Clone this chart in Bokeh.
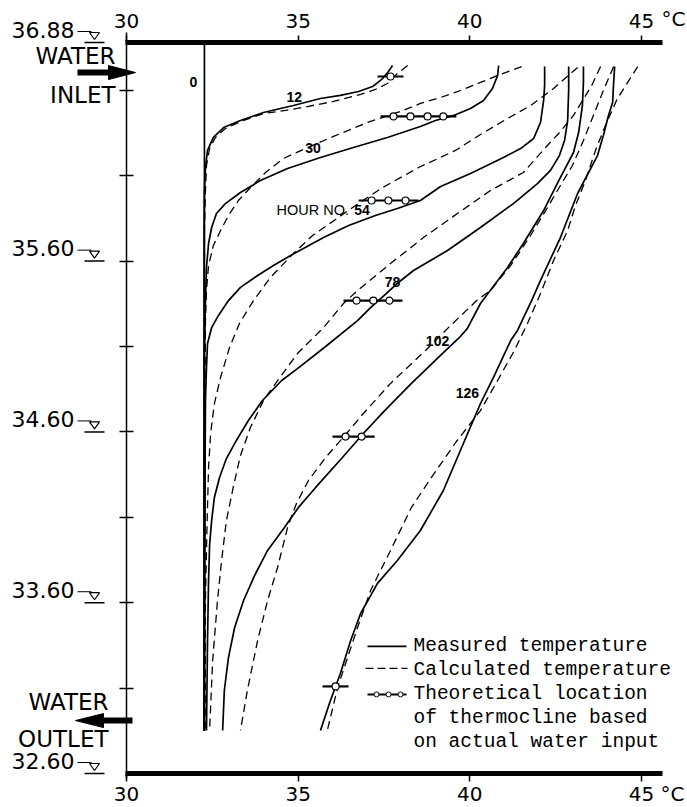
from bokeh.plotting import figure
from bokeh.models import Range1d, LinearAxis, FixedTicker
from bokeh.core.properties import value
from bokeh.embed import file_html
from bokeh.resources import INLINE

# ---------------- data (temperature in deg C, elevation in m) ----------------
temp_ticks = [30, 35, 40, 45]
elev_ticks = [33.10, 33.60, 34.10, 34.60, 35.10, 35.60, 36.10, 36.60]
level_values = [36.88, 35.60, 34.60, 33.60, 32.60]
level_labels = ["36.88", "35.60", "34.60", "33.60", "32.60"]
inlet_elev = 36.704
outlet_elev = 32.910

m0_elev = [36.88, 32.85]
m0_temp = [32.27, 32.27]

m12_temp = [37.75, 37.63, 37.46, 37.17, 36.76, 36.23, 35.65, 34.86, 33.99, 33.32, 32.83, 32.53, 32.36, 32.30, 32.27, 32.26, 32.26]
m12_elev = [36.745, 36.710, 36.669, 36.622, 36.593, 36.570, 36.552, 36.511, 36.470, 36.423, 36.382, 36.324, 36.248, 36.148, 36.013, 35.779, 32.852]
c12_temp = [38.19, 37.89, 37.60, 37.25, 36.82, 36.03, 35.27, 34.63, 33.99, 33.32, 32.88, 32.59, 32.42, 32.33, 32.30, 32.27, 32.27]
c12_elev = [36.745, 36.699, 36.640, 36.605, 36.576, 36.535, 36.505, 36.482, 36.464, 36.417, 36.376, 36.324, 36.259, 36.160, 36.013, 35.779, 32.852]

m30_temp = [40.84, 40.81, 40.66, 40.40, 40.02, 39.53, 39.00, 38.56, 37.60, 36.61, 35.65, 34.69, 33.90, 33.32, 32.88, 32.62, 32.48, 32.39, 32.33, 32.30, 32.27, 32.26]
m30_elev = [36.745, 36.687, 36.611, 36.540, 36.494, 36.453, 36.423, 36.388, 36.324, 36.265, 36.207, 36.142, 36.072, 36.002, 35.937, 35.879, 35.797, 35.703, 35.563, 35.369, 35.077, 32.852]
c30_temp = [41.51, 40.89, 40.31, 39.73, 39.15, 38.56, 37.98, 37.02, 36.03, 35.27, 34.57, 34.05, 33.61, 33.26, 32.97, 32.74, 32.53, 32.39, 32.33, 32.30, 32.29, 32.27]
c30_elev = [36.739, 36.693, 36.646, 36.599, 36.558, 36.523, 36.476, 36.412, 36.330, 36.265, 36.201, 36.119, 36.031, 35.955, 35.867, 35.779, 35.691, 35.574, 35.428, 35.252, 34.901, 32.852]

m54_temp = [42.18, 42.18, 42.15, 42.06, 41.86, 41.48, 40.98, 40.02, 39.15, 38.56, 37.89, 37.25, 36.47, 35.74, 34.78, 34.28, 33.82, 33.32, 32.97, 32.68, 32.48, 32.36, 32.33, 32.30, 32.29, 32.27]
m54_elev = [36.739, 36.628, 36.540, 36.412, 36.318, 36.259, 36.207, 36.113, 36.037, 35.955, 35.908, 35.867, 35.809, 35.738, 35.633, 35.574, 35.516, 35.446, 35.369, 35.282, 35.211, 35.118, 34.977, 34.784, 34.433, 32.852]
c54_temp = [43.14, 42.44, 41.77, 41.10, 40.31, 39.58, 38.51, 37.46, 36.67, 36.09, 35.42, 34.86, 34.19, 33.70, 33.29, 33.00, 32.74, 32.56, 32.45, 32.39, 32.34, 32.30, 32.29]
c54_elev = [36.734, 36.611, 36.511, 36.435, 36.341, 36.248, 36.148, 36.031, 35.926, 35.844, 35.750, 35.645, 35.504, 35.369, 35.235, 35.094, 34.919, 34.766, 34.591, 34.392, 34.005, 33.613, 32.852]

m78_temp = [42.88, 42.88, 42.85, 42.76, 42.61, 42.35, 41.97, 41.27, 40.31, 39.35, 38.36, 37.92, 37.54, 37.11, 36.73, 35.80, 34.98, 34.52, 33.96, 33.55, 33.20, 32.91, 32.71, 32.56, 32.48, 32.42, 32.39, 32.36, 32.33]
m78_elev = [36.739, 36.599, 36.423, 36.306, 36.218, 36.131, 36.054, 35.937, 35.797, 35.662, 35.545, 35.475, 35.405, 35.328, 35.252, 35.100, 34.971, 34.901, 34.784, 34.667, 34.550, 34.444, 34.333, 34.216, 34.081, 33.935, 33.730, 33.379, 32.852]
c78_temp = [43.81, 43.55, 43.02, 42.64, 42.26, 41.56, 40.60, 39.64, 38.65, 37.69, 36.73, 36.32, 35.74, 34.98, 34.40, 33.99, 33.61, 33.32, 33.12, 32.91, 32.77, 32.65, 32.51, 32.42]
c78_elev = [36.739, 36.628, 36.453, 36.359, 36.277, 36.119, 36.013, 35.879, 35.738, 35.586, 35.428, 35.352, 35.211, 35.059, 34.901, 34.784, 34.626, 34.462, 34.286, 34.081, 33.847, 33.613, 33.262, 32.852]

m102_temp = [43.31, 43.31, 43.28, 43.17, 43.02, 42.64, 42.15, 41.56, 41.10, 40.31, 39.93, 39.70, 39.20, 38.30, 37.52, 36.90, 36.29, 35.51, 35.01, 34.60, 34.11, 33.73, 33.41, 33.15, 32.97, 32.85, 32.80]
m102_elev = [36.739, 36.646, 36.511, 36.353, 36.236, 36.090, 35.896, 35.703, 35.563, 35.352, 35.206, 35.153, 35.059, 34.884, 34.725, 34.591, 34.450, 34.275, 34.158, 34.040, 33.906, 33.759, 33.613, 33.455, 33.279, 33.086, 32.852]
c102_temp = [44.19, 43.89, 43.60, 43.31, 42.99, 42.64, 42.21, 41.77, 41.19, 40.60, 40.20, 39.44, 38.71, 37.69, 36.90, 36.41, 35.80, 35.30, 34.95, 34.69, 34.40, 34.11, 33.82, 33.52, 33.32]
c102_elev = [36.739, 36.599, 36.453, 36.306, 36.160, 36.043, 35.896, 35.750, 35.574, 35.428, 35.369, 35.223, 35.077, 34.884, 34.708, 34.591, 34.450, 34.316, 34.181, 34.040, 33.806, 33.613, 33.379, 33.086, 32.852]

m126_temp = [44.22, 44.19, 44.16, 44.04, 43.89, 43.72, 43.46, 43.14, 42.64, 42.06, 41.80, 41.39, 41.19, 40.69, 40.31, 39.85, 39.23, 38.56, 37.89, 37.31, 36.82, 36.53, 36.23, 35.94, 35.65]
m126_elev = [36.739, 36.646, 36.529, 36.453, 36.336, 36.218, 36.119, 35.996, 35.738, 35.487, 35.369, 35.194, 35.135, 34.919, 34.766, 34.550, 34.257, 34.023, 33.847, 33.713, 33.537, 33.379, 33.186, 33.027, 32.852]
c126_temp = [44.89, 44.54, 44.30, 43.95, 43.66, 43.37, 43.08, 42.85, 42.44, 42.06, 41.68, 41.30, 40.81, 40.31, 39.61, 38.88, 38.30, 37.69, 37.11, 36.73, 36.44, 36.15, 35.85]
c126_elev = [36.739, 36.628, 36.552, 36.394, 36.248, 36.072, 35.926, 35.779, 35.604, 35.410, 35.235, 35.077, 34.901, 34.725, 34.544, 34.333, 34.158, 33.906, 33.672, 33.455, 33.279, 33.104, 32.852]

# theoretical thermocline location (one elevation per hour, circles at temperatures)
tc_elev = [36.681, 36.447, 35.955, 35.369, 34.573, 33.110]
tc_temps = [[37.69], [37.78, 38.27, 38.77, 39.23], [37.14, 37.63, 38.13],
            [36.70, 37.19, 37.66], [36.38, 36.85], [36.09]]

hour_text = ["0", "12", "30", "54", "78", "102", "126"]
hour_temp = [31.95, 34.89, 35.43, 36.86, 37.75, 39.06, 39.93]
hour_elev = [36.646, 36.558, 36.265, 35.902, 35.475, 35.135, 34.825]

legend_text = ["Measured temperature", "Calculated temperature", "Theoretical location",
               "of thermocline based", "on actual water input"]

# ---------------- layout helpers ----------------
DX = 1 / 34.33   # deg C per screen pixel
DY = 1 / 170.8   # m per screen pixel
T_AX = 30.0      # temperature of the left axis
def xo(dpx):     # x position dpx pixels right of the left axis
    return T_AX + dpx * DX

W, H = 687, 807
AX_LEFT_PX, AX_TOP_PX = 126, 42
x_lo = xo(-AX_LEFT_PX)
x_hi = xo(W - AX_LEFT_PX)
y_hi = level_values[0] + AX_TOP_PX * DY
y_lo = level_values[0] - (H - AX_TOP_PX) * DY

p = figure(width=W, height=H, x_range=Range1d(x_lo, x_hi), y_range=Range1d(y_lo, y_hi),
           x_axis_location=None, y_axis_location=None, toolbar_location=None,
           output_backend="svg", min_border=0)
p.outline_line_color = None
p.xgrid.visible = False
p.ygrid.visible = False

T_END = xo(536)

def temp_axis(loc, tick_out, standoff):
    ax = LinearAxis(ticker=FixedTicker(ticks=temp_ticks, minor_ticks=[]),
                    fixed_location=loc, bounds=(xo(-1), T_END))
    ax.axis_line_width = 5
    ax.axis_line_color = "black"
    ax.major_tick_line_width = 1.5
    ax.major_tick_line_color = "black"
    ax.major_tick_in = 0
    ax.major_tick_out = tick_out
    ax.minor_tick_line_color = None
    ax.major_label_text_font = "DejaVu Sans"
    ax.major_label_text_font_size = "20px"
    ax.major_label_text_color = "black"
    ax.major_label_standoff = standoff
    return ax

p.add_layout(temp_axis(level_values[0], 7, 8), "above")
p.add_layout(temp_axis(level_values[-1], 8, 5), "below")

ax_left = LinearAxis(ticker=FixedTicker(ticks=elev_ticks, minor_ticks=[]),
                     fixed_location=T_AX, bounds=(32.57, 36.94))
ax_left.axis_line_width = 1.5
ax_left.axis_line_color = "black"
ax_left.major_tick_in = 7
ax_left.major_tick_out = 7
ax_left.major_tick_line_width = 1.5
ax_left.major_tick_line_color = "black"
ax_left.minor_tick_line_color = None
ax_left.major_label_overrides = {t: "" for t in elev_ticks}
p.add_layout(ax_left, "left")

# ---------------- curves ----------------
measured = [(m0_temp, m0_elev), (m12_temp, m12_elev), (m30_temp, m30_elev), (m54_temp, m54_elev),
            (m78_temp, m78_elev), (m102_temp, m102_elev), (m126_temp, m126_elev)]
calculated = [(c12_temp, c12_elev), (c30_temp, c30_elev), (c54_temp, c54_elev),
              (c78_temp, c78_elev), (c102_temp, c102_elev), (c126_temp, c126_elev)]
for t, e in calculated:
    p.line(t, e, line_color="black", line_width=1.3, line_dash="8 5")
for t, e in measured:
    p.line(t, e, line_color="black", line_width=1.7)

# thermocline markers
bar_ext = 13 * DX
for e, ts in zip(tc_elev, tc_temps):
    p.line([min(ts) - bar_ext, max(ts) + bar_ext], [e, e], line_color="black", line_width=2.2)
    p.scatter(ts, [e] * len(ts), size=7, marker="circle", fill_color="white",
              line_color="black", line_width=1.2)

# hour labels
p.text(x=hour_temp, y=hour_elev, text=hour_text, text_font=value("Liberation Sans"),
       text_font_style="bold", text_font_size="14px", text_align="center",
       text_baseline="middle", text_color="black")
p.text(x=[hour_temp[3] - 13 * DX], y=[hour_elev[3]], text=["HOUR NO."],
       text_font=value("Liberation Sans"), text_font_size="14.5px", text_align="right",
       text_baseline="middle", text_color="black")

# ---------------- legend ----------------
leg_x = xo(287)
leg_e0 = 33.344
row = 24 * DY
p.text(x=[leg_x] * len(legend_text), y=[leg_e0 - i * row for i in range(len(legend_text))],
       text=legend_text, text_font=value("Liberation Mono"), text_font_size="19.5px",
       text_align="left", text_baseline="middle", text_color="black")
p.line([xo(241), xo(280)], [leg_e0, leg_e0], line_color="black", line_width=1.7)
p.line([xo(239), xo(281)], [leg_e0 - row + 2 * DY] * 2, line_color="black", line_width=1.3,
       line_dash="8 4")
p.line([xo(241), xo(280)], [leg_e0 - 2 * row] * 2, line_color="black", line_width=2)
p.scatter([xo(250), xo(262), xo(274)], [leg_e0 - 2 * row] * 3, size=5, marker="circle",
          fill_color="white", line_color="black", line_width=1)

# ---------------- left-side annotations ----------------
p.text(x=[xo(-52)] * len(level_values), y=[lv + 13 * DY for lv in level_values],
       text=level_labels, text_font=value("DejaVu Sans"), text_font_size="22px",
       text_align="right", text_baseline="middle", text_color="black")
p.segment(x0=[xo(-49)] * 5, y0=[lv + 11 * DY for lv in level_values],
          x1=[xo(-35)] * 5, y1=[lv + 11 * DY for lv in level_values],
          line_color="black", line_width=1)
p.segment(x0=[xo(-42)] * 5, y0=level_values, x1=[xo(-22)] * 5, y1=level_values,
          line_color="black", line_width=1.5)
p.patches(xs=[[xo(-37), xo(-27), xo(-32)] for _ in level_values],
          ys=[[lv + 10 * DY, lv + 10 * DY, lv + 3 * DY] for lv in level_values],
          fill_color="white", line_color="black", line_width=1.2)

# water inlet / outlet arrows
p.segment(x0=[xo(-49), xo(6)], y0=[inlet_elev, outlet_elev],
          x1=[xo(-16), xo(-26)], y1=[inlet_elev, outlet_elev],
          line_color="black", line_width=6)
p.patches(xs=[[xo(-18), xo(9), xo(-18)], [xo(-23), xo(-51), xo(-23)]],
          ys=[[inlet_elev + 7 * DY, inlet_elev, inlet_elev - 7 * DY],
              [outlet_elev + 7 * DY, outlet_elev, outlet_elev - 7 * DY]],
          fill_color="black", line_color="black")
p.text(x=[xo(-11), xo(-11), xo(-18), xo(-18)],
       y=[inlet_elev + 17 * DY, inlet_elev - 22 * DY, outlet_elev + 19 * DY, outlet_elev - 18 * DY],
       text=["WATER", "INLET", "WATER", "OUTLET"], text_font=value("DejaVu Sans"),
       text_font_size="23px", text_align="right", text_baseline="middle", text_color="black")

# degree units next to the 45 tick labels
p.text(x=[xo(547), xo(546)], y=[level_values[0] + 24 * DY, level_values[-1] - 20 * DY],
       text=["°C", "°C"], text_font=value("DejaVu Sans"), text_font_size="20px",
       text_align="center", text_baseline="middle", text_color="black")

open("out.html", "w").write(file_html(p, INLINE))
